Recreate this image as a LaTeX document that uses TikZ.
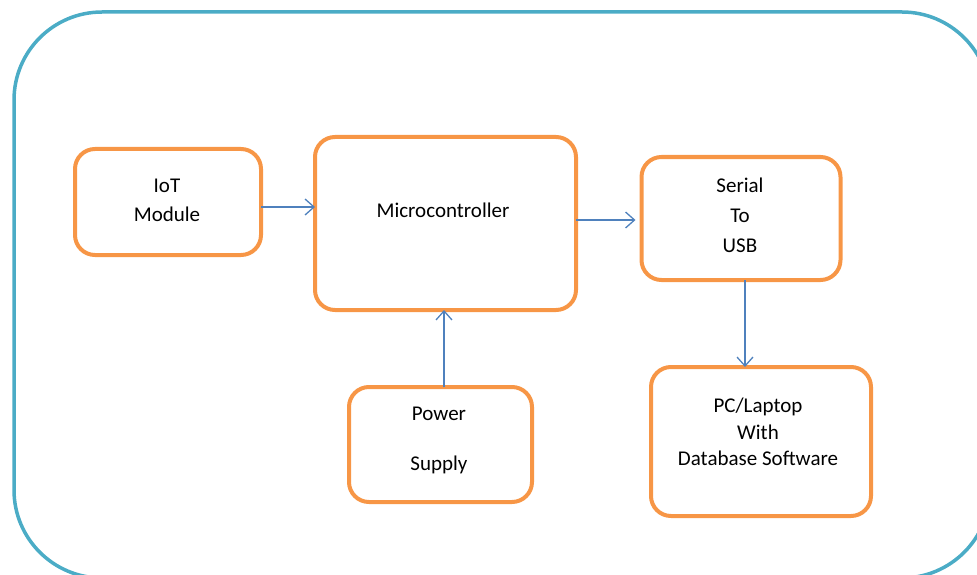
\documentclass[tikz,border=0pt]{standalone}
\usepackage{fontspec}
\setmainfont{Carlito}
\usetikzlibrary{arrows.meta}
\definecolor{frameblue}{HTML}{4BACC6}
\definecolor{boxorange}{HTML}{F79646}
\definecolor{arrowblue}{HTML}{4F81BD}
\tikzset{
    block/.style={draw=boxorange, line width=4pt, rounded corners=20pt, inner sep=0pt, outer sep=0pt},
    link/.style={draw=arrowblue, line width=1.3pt, -{Straight Barb[length=9pt,width=16pt,line width=1.3pt]}},
    lbl/.style={anchor=base, inner sep=0pt, font=\fontsize{21}{25}\selectfont}
}
\begin{document}
\begin{tikzpicture}[x=1pt, y=-1pt]
            \useasboundingbox (0,0) rectangle (977,575);
            \clip (0,0) rectangle (977,575);
            \draw[frameblue, line width=3.5pt, rounded corners=88pt] (14,12) rectangle (990,578);
            % blocks
            \node[block, minimum width=186pt, minimum height=106pt] (iot) at (168,202) {};
            \node[block, minimum width=261pt, minimum height=173pt] (micro) at (445.5,223.5) {};
            \node[block, minimum width=199pt, minimum height=123pt] (usb) at (741,218.5) {};
            \node[block, minimum width=183pt, minimum height=115pt] (power) at (440.5,444.5) {};
            \node[block, minimum width=220pt, minimum height=149pt] (pc) at (761,441.5) {};
            % texts
            \node[lbl] at (167,192) {IoT};
            \node[lbl] at (167,221) {Module};
            \node[lbl] at (443,217) {Microcontroller};
            \node[lbl] at (740,192) {Serial};
            \node[lbl] at (740,222) {To};
            \node[lbl] at (740,252) {USB};
            \node[lbl] at (439,420) {Power};
            \node[lbl] at (439,470) {Supply};
            \node[lbl] at (758,412) {PC/Laptop};
            \node[lbl] at (758,439) {With};
            \node[lbl] at (758,465) {Database Software};
            % arrows
            \draw[link] (iot.east |- 0,207) -- (micro.west |- 0,207);
            \draw[link, shorten >=6pt] (micro.east |- 0,220) -- (usb.west |- 0,220);
            \draw[link] (power.north -| 444,0) -- (micro.south -| 444,0);
            \draw[link] (usb.south -| 745,0) -- (pc.north -| 745,0);
        \end{tikzpicture}
\end{document}
